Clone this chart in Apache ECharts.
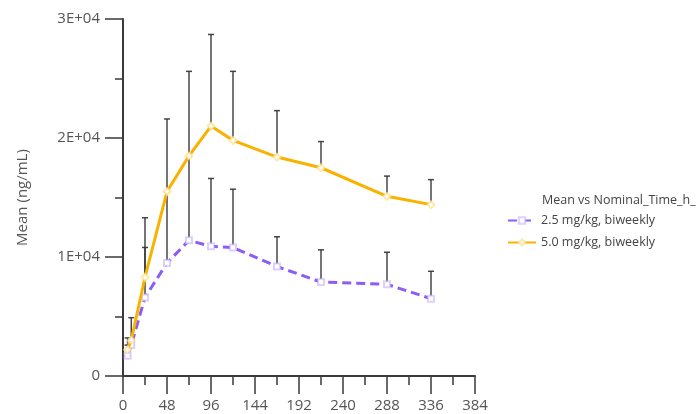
<!DOCTYPE html>
<html><head><meta charset="utf-8">
<script src="https://cdn.jsdelivr.net/npm/echarts@6/dist/echarts.min.js"></script>
<style>html,body{margin:0;padding:0;background:#fff}#c{width:699px;height:414px}</style>
</head><body><div id="c"></div>
<script>
const times = [5, 9, 24, 48, 72, 96, 120, 168, 216, 288, 336];
const lowMean  = [1700, 2600, 6600, 9500, 11400, 10900, 10800, 9200, 7900, 7700, 6500];
const lowUpper = [2600, 3000, 10800, 15500, 18500, 16600, 15700, 11700, 10600, 10400, 8800];
const highMean  = [2200, 3000, 8300, 15500, 18500, 21000, 19800, 18400, 17500, 15100, 14400];
const highUpper = [3200, 4900, 13300, 21600, 25600, 28700, 25600, 22300, 19700, 16800, 16500];
const seriesNames = ['2.5 mg/kg, biweekly', '5.0 mg/kg, biweekly'];
const legendTitle = 'Mean vs Nominal_Time_h_';
const yAxisTitle = 'Mean (ng/mL)';
const yTickLabels = {0: '0', 10000: '1E+04', 20000: '2E+04', 30000: '3E+04'};

const PURPLE = '#8b5cf6', ORANGE = '#f9b200';
const FONT = 'Open Sans';

function errData(mean, upper) { return times.map((t, i) => [t, mean[i], upper[i]]); }
function errRender(params, api) {
  const x = api.value(0);
  const p0 = api.coord([x, api.value(1)]);
  const p1 = api.coord([x, api.value(2)]);
  const w = 3;
  const st = {stroke: '#333', lineWidth: 1.5, opacity: 0.9};
  return {type: 'group', children: [
    {type: 'line', shape: {x1: p0[0], y1: p0[1], x2: p1[0], y2: p1[1]}, style: st},
    {type: 'line', shape: {x1: p1[0]-w, y1: p1[1], x2: p1[0]+w, y2: p1[1]}, style: st},
    {type: 'line', shape: {x1: p0[0]-w, y1: p0[1], x2: p0[0]+w, y2: p0[1]}, style: st}
  ]};
}

const chart = echarts.init(document.getElementById('c'), null, {renderer: 'canvas'});
chart.setOption({
  animation: false,
  backgroundColor: '#fff',
  textStyle: {fontFamily: FONT},
  grid: {left: 123, right: 224, top: 19, bottom: 38, containLabel: false},
  title: {text: legendTitle, left: 542, top: 194, padding: 0,
    textStyle: {fontSize: 12.5, fontWeight: 'normal', color: '#444', fontFamily: FONT}},
  legend: {orient: 'vertical', left: 507, top: 214, padding: 0, itemWidth: 28, itemHeight: 8, itemGap: 9,
    data: seriesNames, textStyle: {fontSize: 12.5, color: '#444', fontFamily: FONT}},
  xAxis: {type: 'value', min: 0, max: 384, interval: 48,
    axisLine: {show: true, lineStyle: {color: '#3a3a3a', width: 2}},
    axisTick: {show: true, length: 18, lineStyle: {color: '#3a3a3a', width: 1.5}},
    minorTick: {show: true, splitNumber: 2, length: 9, lineStyle: {color: '#3a3a3a', width: 1.5}},
    splitLine: {show: false},
    axisLabel: {fontSize: 15, color: '#555', margin: 22, fontFamily: FONT}},
  yAxis: {type: 'value', min: 0, max: 30000, interval: 10000,
    name: yAxisTitle, nameLocation: 'middle', nameGap: 93,
    nameTextStyle: {fontSize: 15, color: '#555', fontFamily: FONT},
    axisLine: {show: true, lineStyle: {color: '#3a3a3a', width: 2}},
    axisTick: {show: true, length: 18, lineStyle: {color: '#3a3a3a', width: 1.5}},
    minorTick: {show: true, splitNumber: 2, length: 8, lineStyle: {color: '#3a3a3a', width: 1.5}},
    splitLine: {show: false},
    axisLabel: {fontSize: 15, color: '#555', margin: 23, fontFamily: FONT,
      formatter: v => yTickLabels[v] !== undefined ? yTickLabels[v] : ''}},
  series: [
    {type: 'custom', name: 'errLow', renderItem: errRender, data: errData(lowMean, lowUpper), z: 1, silent: true},
    {type: 'custom', name: 'errHigh', renderItem: errRender, data: errData(highMean, highUpper), z: 1, silent: true},
    {type: 'line', name: seriesNames[0], data: times.map((t, i) => [t, lowMean[i]]), z: 3,
      symbol: 'emptyRect', symbolSize: 6, showSymbol: true,
      itemStyle: {color: 'rgba(196,176,251,0.6)', borderColor: 'rgba(196,176,251,0.6)', borderWidth: 1},
      lineStyle: {color: PURPLE, width: 3, type: [9, 5]}},
    {type: 'line', name: seriesNames[1], data: times.map((t, i) => [t, highMean[i]]), z: 4,
      symbol: 'emptyDiamond', symbolSize: 7, showSymbol: true,
      itemStyle: {color: 'rgba(255,224,138,0.7)', borderColor: 'rgba(255,224,138,0.7)', borderWidth: 1},
      lineStyle: {color: ORANGE, width: 3}}
  ]
});
</script></body></html>
